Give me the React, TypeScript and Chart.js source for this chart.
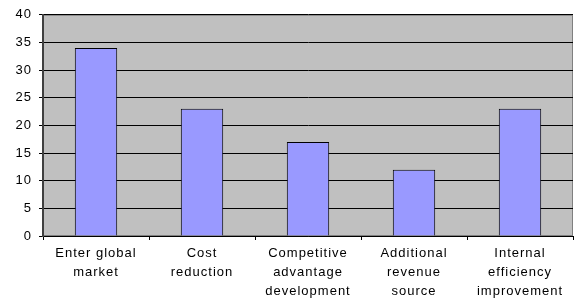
import React, { useEffect, useRef } from "react";
import { Chart, registerables } from "chart.js";

Chart.register(...registerables);

const categories: string[][] = [
  ["Enter global", "market"],
  ["Cost", "reduction"],
  ["Competitive", "advantage", "development"],
  ["Additional", "revenue", "source"],
  ["Internal", "efficiency", "improvement"],
];
const values: number[] = [34, 23, 17, 12, 23];
const yMin = 0;
const yMax = 40;
const yStep = 5;

const FONT = "'Liberation Sans', Arial, sans-serif";

const plotBg = {
  id: "plotBg",
  beforeLayout(chart: any) {
    (chart.ctx as any).letterSpacing = "1px";
  },
  beforeDraw(chart: any) {
    const { ctx, chartArea } = chart;
    (ctx as any).letterSpacing = "1px";
    ctx.save();
    ctx.fillStyle = "#C0C0C0";
    ctx.fillRect(chartArea.left, chartArea.top, chartArea.right - chartArea.left, chartArea.bottom - chartArea.top);
    ctx.strokeStyle = "#808080";
    ctx.lineWidth = 1;
    ctx.strokeRect(chartArea.left + 0.5, chartArea.top + 0.5, chartArea.right - chartArea.left - 1, chartArea.bottom - chartArea.top - 1);
    ctx.restore();
  },
};

export default function App() {
  const ref = useRef<HTMLCanvasElement>(null);
  useEffect(() => {
    if (!ref.current) return;
    const chart = new Chart(ref.current, {
      type: "bar",
      data: {
        labels: categories as any,
        datasets: [
          {
            data: values,
            backgroundColor: "#9999FF",
            borderColor: "#000000",
            borderWidth: 1,
            barPercentage: 0.4,
            categoryPercentage: 1.0,
          },
        ],
      },
      options: {
        animation: false,
        responsive: false,
        devicePixelRatio: 1,
        layout: { padding: { top: 14, right: 3, left: 0, bottom: 0 } },
        plugins: { legend: { display: false }, tooltip: { enabled: false } },
        scales: {
          x: {
            grid: { drawOnChartArea: false, drawTicks: true, tickLength: 4, color: "#000000", offset: true },
            border: { color: "#000000", width: 1 },
            ticks: {
              color: "#000000",
              font: { family: FONT, size: 13, lineHeight: "19px" },
              padding: 4,
              maxRotation: 0,
              autoSkip: false,
            },
            afterFit(scale: any) {
              scale.height = 64;
            },
          },
          y: {
            min: yMin,
            max: yMax,
            grid: { color: "#000000", tickLength: 4, lineWidth: 1 },
            border: { color: "#404040", width: 2 },
            ticks: {
              stepSize: yStep,
              color: "#000000",
              font: { family: FONT, size: 13 },
              padding: 7,
            },
            afterFit(scale: any) {
              scale.width = 43;
            },
          },
        },
      },
      plugins: [plotBg],
    });
    return () => chart.destroy();
  }, []);
  return (
    <div style={{ position: "absolute", left: 0, top: 0, width: 576, height: 300, background: "#fff" }}>
      <canvas ref={ref} width={576} height={300} />
    </div>
  );
}
